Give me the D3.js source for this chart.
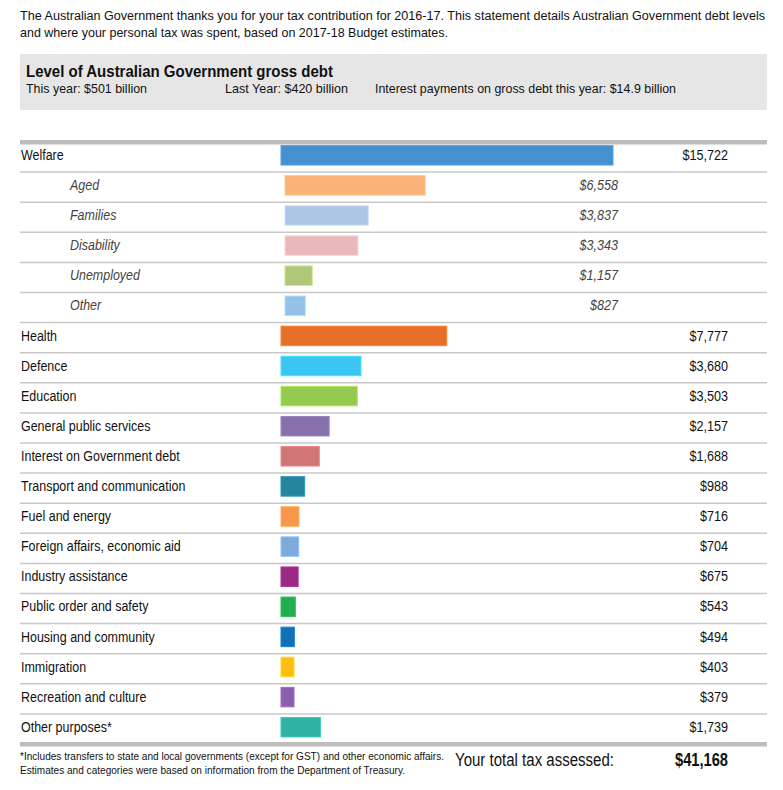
<!DOCTYPE html>
<html>
<head>
<meta charset="utf-8">
<script src="https://cdn.jsdelivr.net/npm/d3@7"></script>
<style>
    body { margin: 0; background: #fff; }
    svg text { font-family: "Liberation Sans", Arial, sans-serif; fill: #111; }
</style>
</head>
<body>
<svg id="chart" width="783" height="790"></svg>
<script>
// spending per category, in dollars of personal tax
const mainCategories = ['Welfare', 'Health', 'Defence', 'Education', 'General public services',
    'Interest on Government debt', 'Transport and communication', 'Fuel and energy',
    'Foreign affairs, economic aid', 'Industry assistance', 'Public order and safety',
    'Housing and community', 'Immigration', 'Recreation and culture', 'Other purposes*'];
const mainValues = [15722, 7777, 3680, 3503, 2157, 1688, 988, 716, 704, 675, 543, 494, 403, 379, 1739];

const welfareParts = ['Aged', 'Families', 'Disability', 'Unemployed', 'Other'];
const welfareValues = [6558, 3837, 3343, 1157, 827];

const mainColors = ['#4590ce', '#e56e28', '#3bc5f2', '#96c94f', '#8671ab', '#d07576', '#25849e',
    '#f7974b', '#7da9dc', '#9a2a83', '#21ae4e', '#1170b8', '#fdbe13', '#8b5fad', '#2fb1a4'];
const welfareColors = ['#f9b27a', '#aec6e5', '#e8b8ba', '#aec878', '#94c1e5'];

const debtThisYear = 501, debtLastYear = 420, debtInterest = 14.9;
const totalTax = 41168;

// rows in display order: welfare, its parts, then the rest
let rows = [{name: mainCategories[0], value: mainValues[0], color: mainColors[0], sub: false}];
welfareParts.forEach(function (p, i) {
    rows.push({name: p, value: welfareValues[i], color: welfareColors[i], sub: true});
});
mainCategories.slice(1).forEach(function (c, i) {
    rows.push({name: c, value: mainValues[i + 1], color: mainColors[i + 1], sub: false});
});

const svg = d3.select('#chart');
const left = 20, right = 767;

// the original uses a narrow face, so squeeze text horizontally
function squeeze(sel, k) {
    sel.each(function () {
        const w = this.getComputedTextLength();
        d3.select(this)
            .attr('textLength', w * k)
            .attr('lengthAdjust', 'spacingAndGlyphs');
    });
}

function fitText(x, yy, size, txt, width) {
    return svg.append('text')
        .attr('x', x).attr('y', yy)
        .style('font-size', size + 'px')
        .attr('textLength', width)
        .attr('lengthAdjust', 'spacingAndGlyphs')
        .text(txt);
}

// intro text
fitText(20, 20, 12.5, 'The Australian Government thanks you for your tax contribution for 2016-17. This statement details Australian Government debt levels', 745)
    .style('font-size', '12.5px');
fitText(20, 37, 13, 'and where your personal tax was spent, based on 2017-18 Budget estimates.', 428);

// debt box
svg.append('rect').attr('x', left).attr('y', 54).attr('width', right - left).attr('height', 56)
    .attr('fill', '#e6e6e6');
fitText(26, 77, 16, 'Level of Australian Government gross debt', 307).style('font-weight', 'bold');
fitText(26, 93, 13.5, 'This year: $' + debtThisYear + ' billion', 121);
fitText(225, 93, 13.5, 'Last Year: $' + debtLastYear + ' billion', 123);
fitText(375, 93, 13.5, 'Interest payments on gross debt this year: $' + debtInterest + ' billion', 301);

// scales
const y = d3.scaleBand()
    .domain(d3.range(rows.length))
    .range([140, 742]);

const x = d3.scaleLinear()
    .domain([0, d3.max(mainValues)])
    .range([3, 332]);

const fmt = d3.format('$,');

// separators
svg.append('g').selectAll('line')
    .data(d3.range(1, rows.length))
    .join('line')
    .attr('x1', left).attr('x2', right)
    .attr('y1', function (i) { return y(i) + 2; })
    .attr('y2', function (i) { return y(i) + 2; })
    .attr('stroke', '#c8c8c8')
    .attr('stroke-width', 1.5);

svg.append('rect').attr('x', left).attr('y', 140).attr('width', right - left).attr('height', 4.5)
    .attr('fill', '#bdbdbd');
svg.append('rect').attr('x', left).attr('y', 742).attr('width', right - left).attr('height', 4.5)
    .attr('fill', '#bdbdbd');

const row = svg.append('g').selectAll('g')
    .data(rows)
    .join('g')
    .attr('transform', function (d, i) { return 'translate(0,' + (y(i) + y.bandwidth() / 2) + ')'; });

row.append('rect')
    .attr('x', function (d) { return d.sub ? 285 : 281; })
    .attr('y', -9.5)
    .attr('height', 19.5)
    .attr('width', function (d) { return Math.max(x(d.value), 13); })
    .attr('fill', function (d) { return d.color; })
    .attr('stroke', function (d) { return d3.color(d.color).brighter(0.4); })
    .attr('stroke-width', 1);

row.append('text')
    .attr('x', function (d) { return d.sub ? 70 : 21; })
    .attr('dy', '0.35em')
    .style('font-size', '14px')
    .style('font-style', function (d) { return d.sub ? 'italic' : 'normal'; })
    .style('fill', function (d) { return d.sub ? '#444' : '#111'; })
    .text(function (d) { return d.name; })
    .call(squeeze, 0.89);

row.append('text')
    .attr('x', function (d) { return d.sub ? 618 : 728; })
    .attr('dy', '0.35em')
    .attr('text-anchor', 'end')
    .style('font-size', '14px')
    .style('font-style', function (d) { return d.sub ? 'italic' : 'normal'; })
    .style('fill', function (d) { return d.sub ? '#444' : '#111'; })
    .text(function (d) { return fmt(d.value); })
    .call(squeeze, 0.9);

// footer
fitText(20, 760, 10.5, '*Includes transfers to state and local governments (except for GST) and other economic affairs.', 424);
fitText(20, 774, 10.5, 'Estimates and categories were based on information from the Department of Treasury.', 385);
fitText(455, 766, 17.5, 'Your total tax assessed:', 159);
fitText(675, 766, 17.5, fmt(totalTax), 53).style('font-weight', 'bold');
</script>
</body>
</html>
